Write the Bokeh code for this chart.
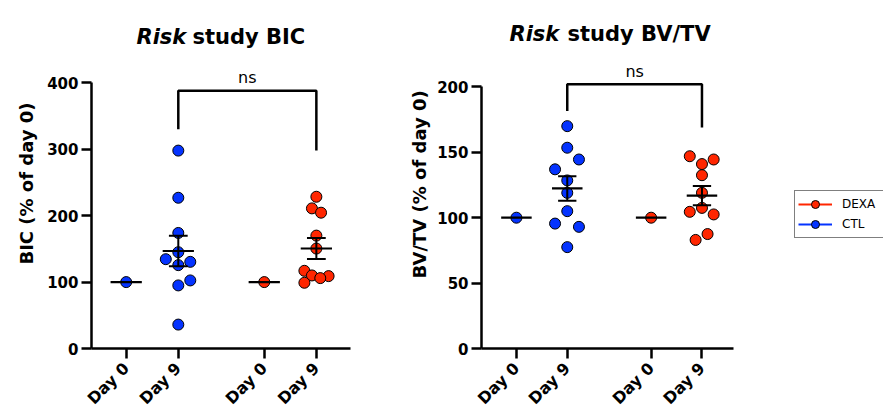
import numpy as np
from math import pi
from bokeh.plotting import figure
from bokeh.layouts import row
from bokeh.models import ColumnDataSource, Label, Legend, LegendItem
from bokeh.embed import file_html
from bokeh.resources import INLINE

# ---------------- data ----------------
group_names = ["CTL Day 0", "CTL Day 9", "DEXA Day 0", "DEXA Day 9"]
group_pos = [1.0, 2.0, 3.65, 4.65]
tick_labels = ["Day 0", "Day 9", "Day 0", "Day 9"]
series_names = ["DEXA", "CTL"]

# BIC (% of day 0)
bic_ctl_d0 = [100]
bic_ctl_d9 = [298, 227, 174, 145, 134.5, 130.5, 125.5, 102.5, 95, 36]
bic_ctl_d9_dx = [0, 0, 0, 0, -0.24, 0.23, 0, 0.23, 0, 0]
bic_dexa_d0 = [100]
bic_dexa_d9 = [228.5, 211, 204.5, 170, 150.5, 117, 110, 109, 106, 99]
bic_dexa_d9_dx = [0, -0.085, 0.09, 0, 0, -0.23, -0.085, 0.235, 0.075, -0.23]
bic_yticks = [0, 100, 200, 300, 400]
bic_bracket = [388, 330, 298]   # top, left-leg end, right-leg end
bic_ns_y = 408

# BV/TV (% of day 0)
bvtv_ctl_d0 = [100]
bvtv_ctl_d9 = [170, 153.5, 144.5, 137, 128.5, 119, 105, 95.5, 93, 77.5]
bvtv_ctl_d9_dx = [0, 0, 0.23, -0.24, 0, 0, 0, -0.24, 0.23, 0]
bvtv_dexa_d0 = [100]
bvtv_dexa_d9 = [147, 141, 144.5, 132.5, 119, 107.5, 104.5, 102.5, 87.5, 83]
bvtv_dexa_d9_dx = [-0.24, 0, 0.23, 0, 0, 0, -0.24, 0.23, 0.11, -0.125]
bvtv_yticks = [0, 50, 100, 150, 200]
bvtv_bracket = [202, 181.5, 169]
bvtv_ns_y = 212

CTL_COLOR = "#0433FF"
DEXA_COLOR = "#FF2600"
FONT = "DejaVu Sans"
H = 417


def style_axes(p, yticks, ybound, xbound):
    p.xgrid.visible = False
    p.ygrid.visible = False
    p.outline_line_color = None
    for ax in (p.xaxis[0], p.yaxis[0]):
        ax.axis_line_width = 2.5
        ax.axis_line_color = "black"
        ax.major_tick_line_width = 2.5
        ax.major_tick_line_color = "black"
        ax.major_tick_out = 10
        ax.major_tick_in = 0
        ax.minor_tick_line_color = None
        ax.major_label_text_font = FONT
        ax.major_label_text_font_style = "bold"
        ax.major_label_text_color = "black"
    p.yaxis.ticker = yticks
    p.yaxis.bounds = ybound
    p.yaxis.major_label_text_font_size = "15px"
    p.yaxis.major_label_standoff = 3
    p.xaxis.ticker = group_pos
    p.xaxis.bounds = xbound
    p.xaxis.major_label_overrides = {pos: lab for pos, lab in zip(group_pos, tick_labels)}
    p.xaxis.major_label_orientation = pi / 4
    p.xaxis.major_label_text_font_size = "16px"
    p.xaxis.major_label_standoff = 7


def add_group(p, pos, vals, dx, color):
    xs = [pos + d for d in dx]
    src = ColumnDataSource(dict(x=xs, y=vals))
    r = p.scatter("x", "y", source=src, size=11, fill_color=color,
                  line_color="black", line_width=1)
    arr = np.array(vals, dtype=float)
    mean = float(arr.mean())
    half = 0.3
    p.segment(x0=[pos - half], y0=[mean], x1=[pos + half], y1=[mean],
              line_color="black", line_width=2.2)
    if len(arr) > 1:
        sem = float(arr.std(ddof=1) / np.sqrt(len(arr)))
        cap = 0.18
        p.segment(x0=[pos], y0=[mean - sem], x1=[pos], y1=[mean + sem],
                  line_color="black", line_width=2)
        p.segment(x0=[pos - cap, pos - cap], y0=[mean - sem, mean + sem],
                  x1=[pos + cap, pos + cap], y1=[mean - sem, mean + sem],
                  line_color="black", line_width=2)
    return r, src


def add_bracket(p, bracket, ns_y):
    top, l_end, r_end = bracket
    a, b = group_pos[1], group_pos[3]
    p.multi_line(xs=[[a, a, b, b]], ys=[[l_end, top, top, r_end]],
                 line_color="black", line_width=2.5)
    p.text(x=[(a + b) / 2], y=[ns_y], text=["ns"], text_align="center",
           text_baseline="alphabetic", text_font_size="16px",
           text_color="black", text_font={"value": FONT})


def add_title(p, x_risk, x_rest, y, rest):
    p.add_layout(Label(x=x_risk, y=y, x_units="screen", y_units="screen",
                       text="Risk", text_font=FONT, text_font_style="bold italic",
                       text_font_size="21px", text_color="black",
                       text_baseline="alphabetic", text_align="left"))
    p.add_layout(Label(x=x_rest, y=y, x_units="screen", y_units="screen",
                       text=rest, text_font=FONT, text_font_style="bold",
                       text_font_size="21px", text_color="black",
                       text_baseline="alphabetic", text_align="left"))


def ylabel_fig(width, text, cx, cy):
    f = figure(width=width, height=H, x_range=(0, width), y_range=(0, H),
               output_backend="svg", toolbar_location=None,
               x_axis_location=None, y_axis_location=None, min_border=0)
    f.xgrid.visible = False
    f.ygrid.visible = False
    f.outline_line_color = None
    f.text(x=[cx], y=[H - cy], text=[text], angle=pi / 2, text_align="center",
           text_baseline="middle", text_font_size="18px", text_font_style="bold",
           text_color="black", text_font={"value": FONT})
    return f


# ---------------- left panel: BIC ----------------
lab1 = ylabel_fig(40, "BIC (% of day 0)", 26, 217)
p1 = figure(width=360, height=H, x_range=(0.334, 6.073), y_range=(0, 518),
            output_backend="svg", toolbar_location=None,
            min_border_left=51, min_border_right=10,
            min_border_top=4, min_border_bottom=69)
style_axes(p1, bic_yticks, (0, 400), (0.334, 5.305))
add_group(p1, group_pos[0], bic_ctl_d0, [0], CTL_COLOR)
add_group(p1, group_pos[1], bic_ctl_d9, bic_ctl_d9_dx, CTL_COLOR)
add_group(p1, group_pos[2], bic_dexa_d0, [0], DEXA_COLOR)
add_group(p1, group_pos[3], bic_dexa_d9, bic_dexa_d9_dx, DEXA_COLOR)
add_bracket(p1, bic_bracket, bic_ns_y)
add_title(p1, 45, 101, 311.3, "study BIC")

# ---------------- right panel: BV/TV ----------------
lab2 = ylabel_fig(34, "BV/TV (% of day 0)", 18.5, 218)
p2 = figure(width=449, height=H, x_range=(0.313, 8.221), y_range=(0, 263),
            output_backend="svg", toolbar_location=None,
            min_border_left=46, min_border_right=0,
            min_border_top=4, min_border_bottom=69)
style_axes(p2, bvtv_yticks, (0, 200), (0.313, 5.278))
add_group(p2, group_pos[0], bvtv_ctl_d0, [0], CTL_COLOR)
ctl_r, ctl_src = add_group(p2, group_pos[1], bvtv_ctl_d9, bvtv_ctl_d9_dx, CTL_COLOR)
add_group(p2, group_pos[2], bvtv_dexa_d0, [0], DEXA_COLOR)
dexa_r, dexa_src = add_group(p2, group_pos[3], bvtv_dexa_d9, bvtv_dexa_d9_dx, DEXA_COLOR)
add_bracket(p2, bvtv_bracket, bvtv_ns_y)
add_title(p2, 28, 86, 314.7, "study BV/TV")

# legend (line + marker swatches); the line renderers are hidden in the plot
dexa_line = p2.line("x", "y", source=dexa_src, line_color=DEXA_COLOR,
                    line_width=2, visible=False)
ctl_line = p2.line("x", "y", source=ctl_src, line_color=CTL_COLOR,
                   line_width=2, visible=False)
legend = Legend(items=[LegendItem(label=series_names[0], renderers=[dexa_line, dexa_r]),
                       LegendItem(label=series_names[1], renderers=[ctl_line, ctl_r])],
                location=(313, 110), orientation="vertical",
                glyph_width=34, glyph_height=20, label_height=20, label_width=44,
                label_standoff=10, spacing=0, padding=3, margin=0,
                label_text_font=FONT, label_text_font_size="12px",
                label_text_color="black", click_policy="none",
                border_line_color="black", border_line_width=1.5,
                background_fill_color="white", background_fill_alpha=1)
p2.add_layout(legend)

layout = row(lab1, p1, lab2, p2)
open("out.html", "w").write(file_html(layout, INLINE))
